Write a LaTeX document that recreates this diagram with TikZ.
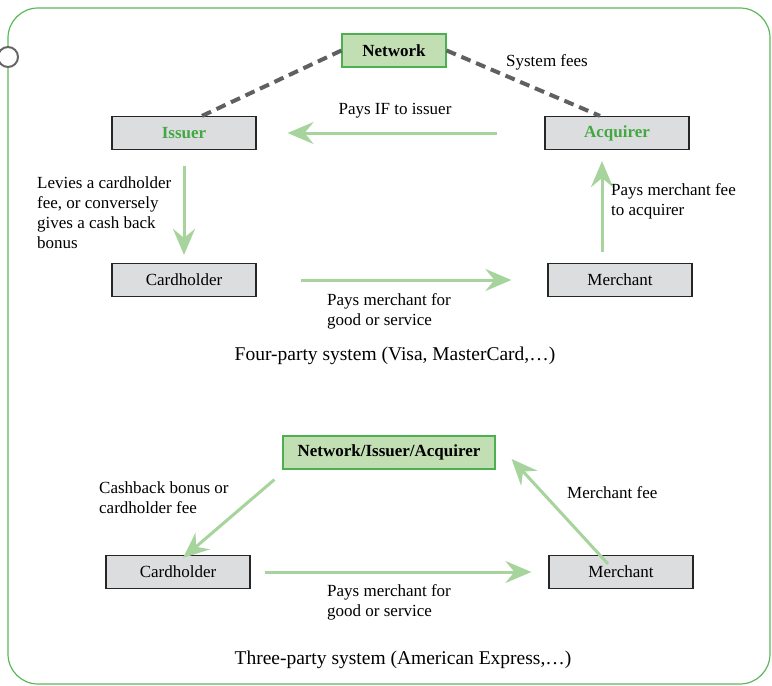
\documentclass[tikz,border=0pt]{standalone}
\usepackage{fontspec}
\setmainfont{Liberation Serif}
\usetikzlibrary{arrows.meta,calc}
\definecolor{framegreen}{HTML}{5DB85A}
\definecolor{boxgreen}{HTML}{C2DFB4}
\definecolor{boxgreenline}{HTML}{4CAF50}
\definecolor{boxgray}{HTML}{DCDDDF}
\definecolor{arrowgreen}{HTML}{A6D49C}
\definecolor{textgreen}{HTML}{43A843}
\definecolor{dashgray}{HTML}{5F6062}
\begin{document}
\begin{tikzpicture}[x=1pt,y=-1pt,
  every node/.style={font=\fontsize{17}{20}\selectfont},
  graybox/.style={draw=black!85,line width=1.2pt,fill=boxgray,minimum width=144pt,minimum height=33pt,inner sep=0pt},
  greenbox/.style={draw=boxgreenline,line width=1.2pt,fill=boxgreen,minimum height=33pt,inner sep=0pt,font=\fontsize{17}{20}\selectfont\bfseries},
  flow/.style={draw=arrowgreen,line width=3pt,-{Stealth[length=26pt,width=22pt,inset=9pt]}},
  link/.style={draw=dashgray,line width=4pt,dash pattern=on 10pt off 6pt},
  lbl/.style={align=left,inner sep=0pt},
  caption/.style={inner sep=0pt,font=\fontsize{19.5}{22}\selectfont}]
\useasboundingbox (0,0) rectangle (772,686);
\draw[framegreen,line width=1.2pt,rounded corners=30pt] (8,8) rectangle (770,684);
\draw[gray!80!black,line width=2pt,fill=white] (8,57) circle (10pt);
% four-party
\node[greenbox,minimum width=104pt] (net) at (394,50.5) {Network};
\node[graybox,font=\fontsize{17}{20}\selectfont\bfseries,text=textgreen] (iss) at (184,133) {Issuer};
\node[graybox,font=\fontsize{17}{20}\selectfont\bfseries,text=textgreen] (acq) at (617,133) {Acquirer};
\node[graybox] (card) at (184,280) {Cardholder};
\node[graybox] (merch) at (620,280) {Merchant};
\draw[link] ($(iss.north)+(18,0)$) -- (net.west);
\draw[link] (net.east) -- ($(acq.north)+(-17,0)$);
\node[lbl] (sysfee) at (547,62) {System fees};
\draw[flow,shorten <=47pt,shorten >=31pt] (acq.west) -- (iss.east);
\node[lbl] (paysif) at (395,111) {Pays IF to issuer};
\draw[flow,shorten <=16pt,shorten >=8pt] (iss.south) -- (card.north);
\node[lbl,anchor=west] (levies) at (37,213) {Levies a cardholder\\fee, or conversely\\gives a cash back\\bonus};
\draw[flow,shorten <=44pt,shorten >=36pt] (card.east) -- (merch.west);
\node[lbl,anchor=west] (paysm1) at (327,311) {Pays merchant for\\good or service};
\draw[flow,shorten <=11pt,shorten >=11pt] ($(merch.north)+(-18,0)$) -- ($(acq.south)+(-15,0)$);
\node[lbl,anchor=west] (paysfee) at (611,201) {Pays merchant fee\\to acquirer};
\node[caption] (cap4) at (395,356) {Four-party system (Visa, MasterCard,\dots)};
% three-party
\node[greenbox,minimum width=212pt] (nia) at (389,452.5) {Network/Issuer/Acquirer};
\node[graybox] (card2) at (178,572) {Cardholder};
\node[graybox] (merch2) at (621,572) {Merchant};
\coordinate (a1) at ($(nia.south west)+(-8,10)$);
\coordinate (a2) at ($(card2.north)+(5,3)$);
\draw[flow] (a1) -- (a2);
\node[lbl,anchor=west] (cash) at (99,498) {Cashback bonus or\\cardholder fee};
\coordinate (b1) at ($(merch2.north)+(-13,9)$);
\coordinate (b2) at ($(nia.east)+(16,6.5)$);
\draw[flow] (b1) -- (b2);
\node[lbl,anchor=west] (mfee) at (567,493) {Merchant fee};
\draw[flow,shorten <=14pt,shorten >=17pt] (card2.east) -- (merch2.west);
\node[lbl,anchor=west] (paysm2) at (327,602) {Pays merchant for\\good or service};
\node[caption] (cap3) at (403,660) {Three-party system (American Express,\dots)};
\end{tikzpicture}
\end{document}
